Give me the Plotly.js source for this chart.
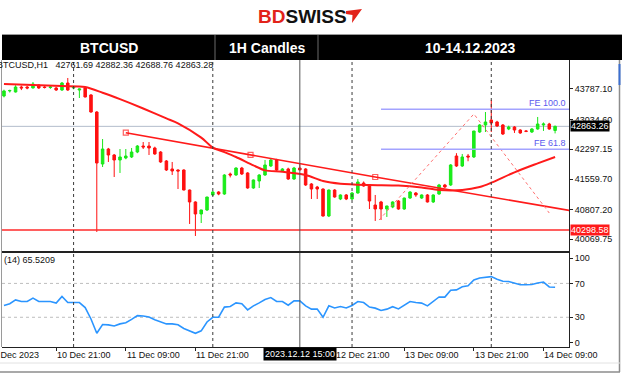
<!DOCTYPE html>
<html>
<head>
<meta charset="utf-8">
<script src="https://cdn.plot.ly/plotly-3.0.1.min.js"></script>
<style>
html,body{margin:0;padding:0;background:#ffffff;overflow:hidden;}
#chart{width:624px;height:375px;}
</style>
</head>
<body>
<div id="chart"></div>
<script>
// ---------------- data ----------------
const firstCandle = '2023-12-10T12:00:00Z';   // H1 candles, one per hour
const open = [
  43614,43738,43713,43836,43836,43812,43886,43836,43824,43812,
  43762,43935,43812,43762,43812,43639,43218,41932,42303,42155,
  42031,42081,42106,42229,42377,42377,42328,42229,42007,41809,
  41784,41784,41289,40993,40696,40795,41166,41240,41190,41685,
  41660,41833,41710,41339,41512,41660,41883,42031,41759,41809,
  41561,41833,41809,41438,41363,41314,40646,41289,41067,41166,
  41067,41215,41462,41413,40918,40993,40819,40869,41017,40819,
  41091,41215,41091,41166,40993,41190,41413,41413,42130,41883,
  42130,42106,42723,42897,43020,42971,42897,42798,42847,42773,
  42748,42723,42798,42897,42921,42761.69];
const high = [
  43770,43770,43880,43870,43860,43960,43900,43860,43860,43840,
  43960,44059,43836,43800,43840,43660,43240,42550,42330,42180,
  42303,42303,42328,42400,42476,42476,42360,42250,42030,41982,
  41800,41800,41300,41010,40800,41120,41260,41260,41680,41720,
  41850,41860,41730,41550,41680,42031,42060,42060,41830,41840,
  41860,41932,41830,41460,41390,41330,41300,41310,41180,41190,
  41240,41560,41500,41430,41166,41020,40900,41010,41040,41100,
  41260,41240,41180,41190,41180,41440,41440,41930,42200,42180,
  42180,42750,42920,43218,43515,43000,42920,42880,42870,42790,
  42770,42820,43095,42960,42950,42882.36];
const low = [
  43580,43700,43700,43760,43780,43800,43790,43800,43790,43740,
  43740,43740,43780,43564,43580,43200,40251,41858,41982,41611,
  41710,42050,42080,42200,42303,42155,42160,41960,41760,41660,
  41314,41280,40449,40152,40473,40770,41140,41160,41170,41600,
  41640,41660,41320,41320,41339,41640,41860,41760,41740,41540,
  41540,41780,41390,41067,41067,40630,40620,41100,41040,41040,
  41040,41200,41370,40819,40523,40547,40622,40840,40800,40800,
  41070,41120,41070,40980,40970,41170,41340,41390,41860,41860,
  42000,42080,42700,42723,42723,42850,42650,42770,42700,42680,
  42720,42700,42780,42750,42780,42688.76];
const close = [
  43738,43750,43836,43812,43812,43910,43812,43824,43836,43762,
  43935,43762,43836,43787,43589,43218,41957,42303,42155,42031,
  42106,42130,42229,42377,42353,42328,42180,41982,41784,41759,
  41759,41289,40993,40696,40795,41116,41240,41190,41660,41660,
  41833,41685,41339,41537,41660,41908,42031,41784,41809,41561,
  41833,41784,41413,41314,41314,40646,41289,41116,41166,41067,
  41215,41487,41388,41017,40819,40819,40894,40993,40819,41091,
  41240,41166,41166,40993,41166,41413,41363,41908,41883,42106,
  42106,42748,42897,42971,42946,42872,42674,42847,42773,42699,
  42740,42798,42921,42921,42798,42863.28];
const rsi14 = [
  44,46,50.5,48.6,48.6,52.6,48.6,48.6,48.6,46.7,
  54.5,47.4,47.4,47.4,41.5,28,11.1,21.5,21,19.8,
  22.2,23.5,27.5,32,31.5,30.3,27,24.5,22.2,22.2,
  21.2,16.8,13.5,11.1,14,24.5,30,30.1,42,42.7,
  47,46,38.7,43.5,47,51,53.3,48.6,48.6,44.3,
  49.5,49.4,43.5,39.6,39.6,30,43.5,41,42.7,41,
  44,48.6,47.4,42,40.8,38,39.6,42.5,39.9,44.7,
  48.6,47.4,46.7,43.5,48.6,54,53.8,62,62.4,66,
  67.2,74,76.5,77.5,78,75,72.5,72.3,70.5,68.5,
  68.4,68.8,70.5,71.6,65.8,65.52];
const maTimes = ['2023-12-10 12:00','2023-12-10 17:00','2023-12-10 22:00','2023-12-11 02:00','2023-12-11 05:00',
  '2023-12-11 08:00','2023-12-11 12:00','2023-12-11 16:00','2023-12-11 18:00','2023-12-11 22:00',
  '2023-12-12 00:00','2023-12-12 02:00','2023-12-12 04:00','2023-12-12 07:00','2023-12-12 09:00',
  '2023-12-12 12:00','2023-12-12 16:00','2023-12-12 19:00','2023-12-12 22:00','2023-12-13 03:00',
  '2023-12-13 08:00','2023-12-13 12:00','2023-12-13 15:00','2023-12-13 19:00','2023-12-13 22:00',
  '2023-12-14 00:00','2023-12-14 04:00','2023-12-14 08:00','2023-12-14 11:00'];
const maValues = [43911,43886,43861,43836,43695,
  43535,43305,43060,42939,42585,
  42338,42226,42105,41898,41774,
  41742,41660,41512,41445,41413,
  41400,41351,41289,41289,41363,
  41470,41727,41947,42105];
const trendTimes = ['2023-12-11 09:00','2023-12-12 06:30','2023-12-13 04:00','2023-12-14 16:00'];
const trendPrices = [42706, 42160, 41611, 40720];
const fiboTimes = ['2023-12-13 04:40','2023-12-13 21:00','2023-12-14 10:00'];
const fiboPrices = [40547, 43169, 40720];
const feStart = '2023-12-13 05:00';
const feLabels = ['FE 100.0','FE 61.8'];
const fePrices = [43285, 42297];
const supportPrice = 40298.58;
const bidPrice = 42863.26;
const priceTicks = [43787.10, 43034.60, 42297.15, 41559.70, 40807.20, 40069.75];
const rsiTicks = [0, 30, 70, 100];
const rsiLevels = [30, 70];
const daySeparators = ['2023-12-11 00:00','2023-12-12 00:00','2023-12-13 00:00','2023-12-14 00:00'];
const crosshairTime = '2023-12-12 15:00';
const crosshairText = '2023.12.12 15:00';
const timeTickVals = ['2023-12-10 21:00','2023-12-11 09:00','2023-12-11 21:00','2023-12-12 09:00',
  '2023-12-12 21:00','2023-12-13 09:00','2023-12-13 21:00','2023-12-14 09:00'];
const timeTickText = ['10 Dec 21:00','11 Dec 09:00','11 Dec 21:00','12 Dec 09:00',
  '12 Dec 21:00','13 Dec 09:00','13 Dec 21:00','14 Dec 09:00'];
const firstTickText = '10 Dec 2023';
const headerCells = ['BTCUSD','1H Candles','10-14.12.2023'];
const infoText = 'BTCUSD,H1\u00a0\u00a0\u00a042761.69 42882.36 42688.76 42863.28';
const rsiText = '(14) 65.5209';

// ---------------- helpers ----------------
const t0 = Date.parse(firstCandle);
const times = open.map((_, i) => new Date(t0 + i*3600000).toISOString().slice(0,16).replace('T',' '));

const PL = 2, PR = 569, PT = 60, PB = 347;
const px = x => (x - PL) / (PR - PL);
const py = y => (PB - y) / (PB - PT);
const FONT = 'Liberation Sans, Arial, sans-serif';
const splitY = py(252);

// ---------------- traces ----------------
const traces = [
  {
    type: 'candlestick', x: times, open: open, high: high, low: low, close: close,
    xaxis: 'x', yaxis: 'y', whiskerwidth: 0,
    increasing: {line: {color: '#19e619', width: 1}, fillcolor: '#19f019'},
    decreasing: {line: {color: '#ff1010', width: 1}, fillcolor: '#ff1010'},
    hoverinfo: 'skip', showlegend: false
  },
  {
    type: 'scatter', mode: 'lines', x: maTimes, y: maValues, xaxis: 'x', yaxis: 'y',
    line: {color: '#ff1a1a', width: 2, shape: 'spline', smoothing: 0.8},
    hoverinfo: 'skip', showlegend: false
  },
  {
    type: 'scatter', mode: 'lines+markers', x: trendTimes, y: trendPrices, xaxis: 'x', yaxis: 'y',
    line: {color: '#ff1a1a', width: 1.6},
    marker: {symbol: 'square-open', size: [5,5,5,0], color: '#ff1a1a', line: {width: 1.2}},
    hoverinfo: 'skip', showlegend: false, cliponaxis: true
  },
  {
    type: 'scatter', mode: 'lines', x: fiboTimes, y: fiboPrices, xaxis: 'x', yaxis: 'y',
    line: {color: '#ff7070', width: 1, dash: 'dot'},
    hoverinfo: 'skip', showlegend: false
  },
  {
    type: 'scatter', mode: 'lines', x: times, y: rsi14, xaxis: 'x', yaxis: 'y2',
    line: {color: '#2b95ff', width: 1.6},
    hoverinfo: 'skip', showlegend: false
  }
];

// ---------------- shapes ----------------
const shapes = [];
// header bar
shapes.push({type:'rect', xref:'paper', yref:'paper', x0:px(2), x1:px(622), y0:py(60), y1:py(34),
  fillcolor:'#000000', line:{width:0}, layer:'above'});
[215, 318].forEach(xx => shapes.push({type:'line', xref:'paper', yref:'paper', x0:px(xx), x1:px(xx),
  y0:py(60), y1:py(34), line:{color:'#6a6a6a', width:1}, layer:'above'}));
shapes.push({type:'line', xref:'paper', yref:'paper', x0:px(2), x1:px(622), y0:py(34.5), y1:py(34.5),
  line:{color:'#9a9a9a', width:1}, layer:'above'});
// logo mark
const logoPts = [[346,11],[362,9],[352,23],[352.5,15],[346,14]];
shapes.push({type:'path', xref:'paper', yref:'paper',
  path: 'M ' + logoPts.map(p => px(p[0]) + ',' + py(p[1])).join(' L ') + ' Z',
  fillcolor:'#e2231a', line:{width:0}, layer:'above'});
// bid line
shapes.push({type:'line', xref:'paper', yref:'y', x0:0, x1:1, y0:bidPrice, y1:bidPrice,
  line:{color:'#b3bccb', width:1}, layer:'below'});
// support line
shapes.push({type:'line', xref:'paper', yref:'y', x0:0, x1:1, y0:supportPrice, y1:supportPrice,
  line:{color:'#ff2a2a', width:1.6}, layer:'above'});
// FE levels
fePrices.forEach(p => shapes.push({type:'line', xref:'x', yref:'y', x0:feStart, x1:'2023-12-15 12:00',
  y0:p, y1:p, line:{color:'#a3a3ff', width:1.5}, layer:'above'}));
// RSI levels
rsiLevels.forEach(v => shapes.push({type:'line', xref:'paper', yref:'y2', x0:0, x1:1, y0:v, y1:v,
  line:{color:'#bdbdbd', width:1, dash:'dot'}, layer:'below'}));
// day separators
daySeparators.forEach(t => shapes.push({type:'line', xref:'x', yref:'paper', x0:t, x1:t, y0:0, y1:1,
  line:{color:'#3a3a3a', width:1, dash:'dot'}, layer:'above'}));
// crosshair
shapes.push({type:'line', xref:'x', yref:'paper', x0:crosshairTime, x1:crosshairTime, y0:0, y1:1,
  line:{color:'#555555', width:1}, layer:'above'});
// panel separator
shapes.push({type:'line', xref:'paper', yref:'paper', x0:0, x1:1, y0:splitY, y1:splitY,
  line:{color:'#222222', width:2}, layer:'above'});
// left panel edge
shapes.push({type:'line', xref:'paper', yref:'paper', x0:px(1.5), x1:px(1.5), y0:py(347), y1:py(60),
  line:{color:'#9a9a9a', width:1}, layer:'above'});
// window edges
shapes.push({type:'line', xref:'paper', yref:'paper', x0:px(619.5), x1:px(619.5), y0:py(372), y1:py(60),
  line:{color:'#8c8c8c', width:1.5}, layer:'above'});
shapes.push({type:'line', xref:'paper', yref:'paper', x0:px(619.5), x1:px(619.5), y0:py(85), y1:py(64),
  line:{color:'#3b6fd1', width:2}, layer:'above'});
shapes.push({type:'line', xref:'paper', yref:'paper', x0:px(0), x1:px(620), y0:py(363), y1:py(363),
  line:{color:'#e2e2e2', width:1}, layer:'above'});
shapes.push({type:'line', xref:'paper', yref:'paper', x0:px(0), x1:px(620), y0:py(372), y1:py(372),
  line:{color:'#8c8c8c', width:1.5}, layer:'above'});

// ---------------- annotations ----------------
const ann = [];
ann.push({xref:'paper', yref:'paper', x:px(302), y:py(16.5), xanchor:'center', yanchor:'middle', showarrow:false,
  text:'<b><span style="color:#e2231a">BD</span>SWISS</b>', font:{family:FONT, size:19, color:'#111111'}});
const cellCenters = [108.5, 266.5, 470];
headerCells.forEach((t, k) => ann.push({xref:'paper', yref:'paper', x:px(cellCenters[k]), y:py(47.5),
  xanchor:'center', yanchor:'middle', showarrow:false, text:'<b>' + t + '</b>',
  font:{family:FONT, size:14, color:'#ffffff'}}));
ann.push({xref:'paper', yref:'paper', x:0, y:py(65), xanchor:'left', yanchor:'middle', xshift:-7,
  showarrow:false, text:infoText, font:{family:FONT, size:9, color:'#111111'}});
ann.push({xref:'paper', yref:'paper', x:0, y:py(259.5), xanchor:'left', yanchor:'middle', xshift:0,
  showarrow:false, text:rsiText, font:{family:FONT, size:9, color:'#111111'}});
feLabels.forEach((t, k) => ann.push({xref:'paper', yref:'y', x:1, y:fePrices[k], xanchor:'right', yanchor:'bottom',
  xshift:-1, yshift:-1, showarrow:false, text:t, font:{family:FONT, size:9, color:'#5a5aee'}}));
ann.push({xref:'paper', yref:'y', x:1, y:bidPrice, xanchor:'left', yanchor:'middle', xshift:1,
  showarrow:false, text:bidPrice.toFixed(2), bgcolor:'#000000', borderpad:0,
  font:{family:FONT, size:9, color:'#ffffff'}});
ann.push({xref:'paper', yref:'y', x:1, y:supportPrice, xanchor:'left', yanchor:'middle', xshift:1,
  showarrow:false, text:supportPrice.toFixed(2), bgcolor:'#ff1a1a', borderpad:0,
  font:{family:FONT, size:9, color:'#ffffff'}});
ann.push({xref:'paper', yref:'paper', x:px(-13.4), y:py(355), xanchor:'left', yanchor:'middle', xshift:-1,
  showarrow:false, text:firstTickText, font:{family:FONT, size:9, color:'#111111'}});
timeTickVals.forEach((t, k) => ann.push({xref:'x', yref:'paper', x:t, y:py(355), xanchor:'left', yanchor:'middle',
  xshift:-1, showarrow:false, text:timeTickText[k], font:{family:FONT, size:9, color:'#111111'}}));
ann.push({xref:'x', yref:'paper', x:crosshairTime, y:py(354), xanchor:'center', yanchor:'middle',
  showarrow:false, text:crosshairText, bgcolor:'#000000', borderpad:1,
  font:{family:FONT, size:9, color:'#ffffff'}});

// ---------------- layout ----------------
const layout = {
  width: 624, height: 375,
  margin: {l: PL, r: 624 - PR, t: PT, b: 375 - PB, pad: 0},
  paper_bgcolor: '#ffffff', plot_bgcolor: '#ffffff',
  showlegend: false, hovermode: false, boxgap: 0.38,
  font: {family: FONT, size: 9, color: '#111111'},
  xaxis: {
    type: 'date', anchor: 'y2', range: ['2023-12-10 11:39:36', '2023-12-14 13:24'],
    rangeslider: {visible: false}, showgrid: false, zeroline: false,
    showline: true, linecolor: '#222222', linewidth: 1,
    ticks: 'outside', ticklen: 3, tickcolor: '#222222', tickvals: timeTickVals, showticklabels: false,
    fixedrange: true
  },
  yaxis: {
    domain: [splitY, 1], anchor: 'x', side: 'right', range: [39756, 44504],
    showgrid: false, zeroline: false, showline: true, linecolor: '#222222', linewidth: 1,
    ticks: 'outside', ticklen: 3, tickcolor: '#222222',
    tickvals: priceTicks, ticktext: priceTicks.map(v => v.toFixed(2)),
    tickfont: {family: FONT, size: 9, color: '#111111'}, fixedrange: true
  },
  yaxis2: {
    domain: [0, splitY], anchor: 'x', side: 'right', range: [-5.1, 107.1],
    showgrid: false, zeroline: false, showline: true, linecolor: '#222222', linewidth: 1,
    ticks: 'outside', ticklen: 3, tickcolor: '#222222',
    tickvals: rsiTicks, ticktext: rsiTicks.map(String),
    tickfont: {family: FONT, size: 9, color: '#111111'}, fixedrange: true
  },
  shapes: shapes,
  annotations: ann
};

Plotly.newPlot('chart', traces, layout, {displayModeBar: false, staticPlot: true});
</script>
</body>
</html>
